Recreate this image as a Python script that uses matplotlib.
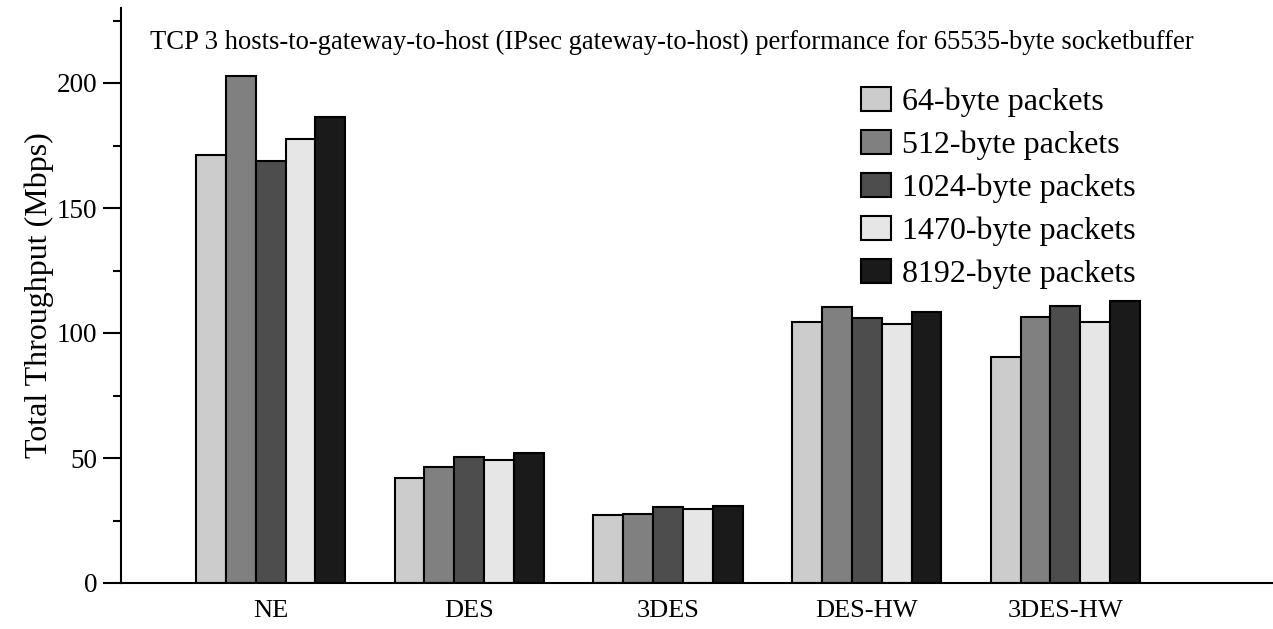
import matplotlib
matplotlib.use("Agg")
import matplotlib.pyplot as plt
import numpy as np
from matplotlib.ticker import MultipleLocator

categories = ["NE", "DES", "3DES", "DES-HW", "3DES-HW"]
series_names = ["64-byte packets", "512-byte packets", "1024-byte packets",
                "1470-byte packets", "8192-byte packets"]
v64 = [171.2, 42.2, 27.2, 104.5, 90.3]
v512 = [202.8, 46.5, 27.8, 110.6, 106.5]
v1024 = [169.0, 50.4, 30.5, 106.0, 111.0]
v1470 = [177.8, 49.4, 29.6, 103.5, 104.6]
v8192 = [186.5, 52.1, 31.0, 108.5, 112.7]
colors = ["#cccccc", "#808080", "#4d4d4d", "#e6e6e6", "#1a1a1a"]

plt.rcParams['font.family'] = ['Liberation Serif', 'DejaVu Serif']

fig = plt.figure(figsize=(12.73, 6.29), dpi=100)
ax = fig.add_axes([121/1273, 1 - 583/629, (1272-121)/1273, (583-8)/629])

x = np.arange(len(categories))
w = 0.1505
all_vals = [v64, v512, v1024, v1470, v8192]
for i, (vals, name, c) in enumerate(zip(all_vals, series_names, colors)):
    ax.bar(x + (i - 2) * w, vals, width=w, color=c, edgecolor="black",
           linewidth=1.5, label=name, zorder=2)

ax.set_xlim(-0.753, 5.04)
ax.set_ylim(0, 230)
ax.set_xticks(x)
ax.set_xticklabels(categories, fontsize=19)
ax.tick_params(axis='x', length=0, pad=12)
ax.yaxis.set_major_locator(MultipleLocator(50))
ax.yaxis.set_minor_locator(MultipleLocator(25))
ax.tick_params(axis='y', which='major', length=13, width=1.5, labelsize=19.5, pad=4)
ax.tick_params(axis='y', which='minor', length=6, width=1.5)
for s in ["top", "right"]:
    ax.spines[s].set_visible(False)
for s in ["left", "bottom"]:
    ax.spines[s].set_linewidth(1.5)

ax.set_ylabel("Total Throughput (Mbps)", fontsize=23, labelpad=2)

fig.text(150/1273, 1 - 42/629,
         "TCP 3 hosts-to-gateway-to-host (IPsec gateway-to-host) performance for 65535-byte socketbuffer",
         fontsize=19.2, va="center", ha="left")

leg = ax.legend(loc="upper left", bbox_to_anchor=((861-121)/(1272-121), (583-87)/575),
                frameon=False, fontsize=23, handlelength=0.94, handleheight=0.78,
                handletextpad=0.35, labelspacing=0.4, borderaxespad=0, borderpad=0)

fig.savefig("out.png", dpi=100)
